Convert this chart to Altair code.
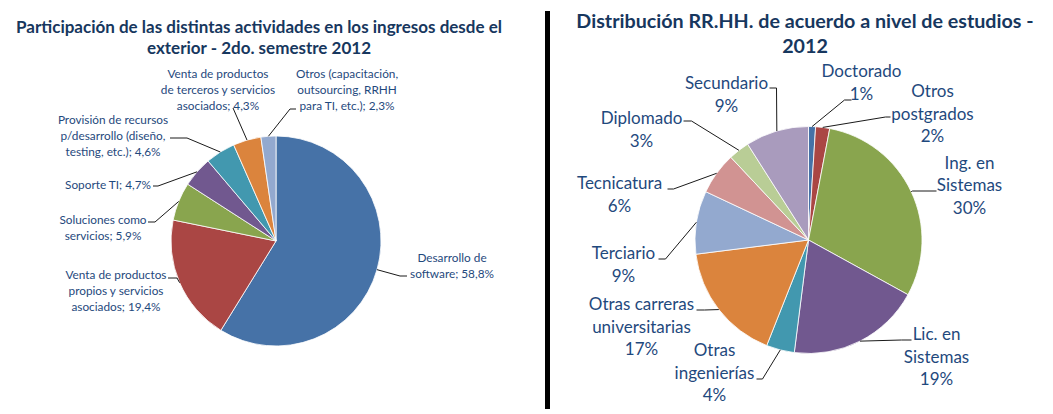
import math
import altair as alt
import pandas as pd

# ---------------- data ----------------
LEFT_TITLE = ["Participación de las distintas actividades en los ingresos desde el",
              "exterior - 2do. semestre 2012"]
LEFT_NAMES = [
    "Desarrollo de\nsoftware",
    "Venta de productos\npropios y servicios\nasociados",
    "Soluciones como\nservicios",
    "Soporte TI",
    "Provisión de recursos\np/desarrollo (diseño,\ntesting, etc.)",
    "Venta de productos\nde terceros y servicios\nasociados",
    "Otros (capacitación,\noutsourcing, RRHH\npara TI,  etc.)",
]
LEFT_VALUES = [58.8, 19.4, 5.9, 4.7, 4.6, 4.3, 2.3]

RIGHT_TITLE = ["Distribución  RR.HH. de acuerdo a nivel de estudios  -", "2012"]
RIGHT_NAMES = [
    "Doctorado", "Otros\npostgrados", "Ing. en\nSistemas", "Lic. en\nSistemas",
    "Otras\ningenierías", "Otras carreras\nuniversitarias", "Terciario",
    "Tecnicatura", "Diplomado", "Secundario",
]
RIGHT_VALUES = [1, 2, 30, 19, 4, 17, 9, 6, 3, 9]

# ---------------- styles / layout ----------------
LEFT_COLORS = ["#4672A7", "#AA4644", "#89A54E", "#71588F", "#4298AF", "#DB843D", "#93A9CF"]
RIGHT_COLORS = ["#4672A7", "#AA4644", "#89A54E", "#71588F", "#4298AF", "#DB843D",
                "#93A9CF", "#D19392", "#B9CD96", "#A99BBD"]
FONT = "Lato"
TITLE_COLOR = "#17375E"
LABEL_COLOR = "#1F497D"
H = 398
LEFT_W, RIGHT_W = 542, 495

# label placement relative to pie centre: text dx, dy, leader attach dx, dy, horizontal stub
LEFT_LAYOUT = [
    (176, 25, 131, 35, -7),
    (-160, 50, -108, 37, 9),
    (-173, -13, -128, -19, 7),
    (-168, -56, -123, -55, 5),
    (-163, -105, -106, -103, 17),
    (-58, -151, -43, -133, 0),
    (71, -151, 20, -132, -6),
]
RIGHT_LAYOUT = [
    (53, -156.5, 43, -140, -7),
    (124, -125.5, 82, -123, -5),
    (161, -54, 128, -49, -24),
    (128, 117.5, 103, 100, -10),
    (-94, 133.5, -52, 139, 6),
    (-167, 87.5, -112, 70, 8),
    (-185, 25.5, -150, 19, 7),
    (-189, -44.5, -141, -51, 6),
    (-167, -109.5, -125, -119, 8),
    (-82, -144.5, -39, -152, 7),
]


def left_pct(v):
    return f"{v:.1f}".replace(".", ",") + "%"


def right_pct(v):
    return f"{v:.0f}%"


def panel(names, values, colors, layout, labels, title_lines, title_size, title_x,
          title_y, title_lh, cx, cy, radius, label_size, label_lh, width, separator):
    total = sum(values)
    arcs = pd.DataFrame({"cat": names, "value": values, "idx": range(len(values))})
    pie = alt.Chart(arcs).mark_arc(outerRadius=radius, stroke="white", strokeWidth=0.8).encode(
        theta=alt.Theta("value:Q", stack=True),
        color=alt.Color("cat:N", scale=alt.Scale(domain=names, range=colors), legend=None),
        order=alt.Order("idx:Q"),
        x=alt.value(cx), y=alt.value(cy),
    )

    rows_t, rows_l = [], []
    cum = 0.0
    for i, (v, lay, lab) in enumerate(zip(values, layout, labels)):
        mid = (cum + v / 2) / total * 2 * math.pi
        cum += v
        tdx, tdy, adx, ady, stub = lay
        n_lines = lab.count("\n") + 1
        rows_t.append({"text": lab, "lx": cx + tdx,
                       "ly": cy + tdy - (n_lines - 1) * label_lh / 2})
        rx = cx + radius * math.sin(mid)
        ry = cy - radius * math.cos(mid)
        ax, ay = cx + adx, cy + ady
        pts = [(rx, ry), (ax + stub, ay), (ax, ay)]
        for s, (px, py) in enumerate(pts):
            rows_l.append({"id": i, "step": s, "px": px, "py": py})

    leaders = alt.Chart(pd.DataFrame(rows_l)).mark_line(color="#1a1a1a", strokeWidth=1).encode(
        x=alt.X("px:Q", scale=None, axis=None),
        y=alt.Y("py:Q", scale=None, axis=None),
        detail="id:N", order="step:Q",
    )
    texts = alt.Chart(pd.DataFrame(rows_t)).mark_text(
        font=FONT, fontSize=label_size, color=LABEL_COLOR, lineBreak="\n",
        lineHeight=label_lh, align="center", baseline="middle",
    ).encode(
        x=alt.X("lx:Q", scale=None, axis=None),
        y=alt.Y("ly:Q", scale=None, axis=None),
        text="text:N",
    )
    title = alt.Chart(pd.DataFrame({"t": ["\n".join(title_lines)]})).mark_text(
        font=FONT, fontSize=title_size, fontWeight="bold", color=TITLE_COLOR,
        lineBreak="\n", lineHeight=title_lh, align="center", baseline="alphabetic",
    ).encode(x=alt.value(title_x), y=alt.value(title_y), text="t:N")

    layers = [pie, leaders, texts, title]
    if separator:
        sep = alt.Chart(pd.DataFrame({"a": [0]})).mark_rule(color="black", strokeWidth=5).encode(
            x=alt.value(width - 2.5), y=alt.value(0), y2=alt.value(H))
        layers.append(sep)
    return alt.layer(*layers).properties(width=width, height=H)


left_labels = [n + "; " + left_pct(v) for n, v in zip(LEFT_NAMES, LEFT_VALUES)]
right_labels = [n + "\n" + right_pct(v) for n, v in zip(RIGHT_NAMES, RIGHT_VALUES)]

left = panel(LEFT_NAMES, LEFT_VALUES, LEFT_COLORS, LEFT_LAYOUT, left_labels, LEFT_TITLE,
             17, 251, 22, 21, 268, 230, 105, 11.8, 15.7, LEFT_W, True)
right = panel(RIGHT_NAMES, RIGHT_VALUES, RIGHT_COLORS, RIGHT_LAYOUT, right_labels, RIGHT_TITLE,
              19.7, 255, 16.5, 25.5, 258.5, 229, 113.5, 17, 22.5, RIGHT_W, False)

chart = alt.hconcat(left, right, spacing=0).resolve_scale(
    color="independent", theta="independent"
).properties(padding=0, background="white").configure_view(stroke=None)

chart.save("out.html", embed_options={"renderer": "svg", "actions": False})
